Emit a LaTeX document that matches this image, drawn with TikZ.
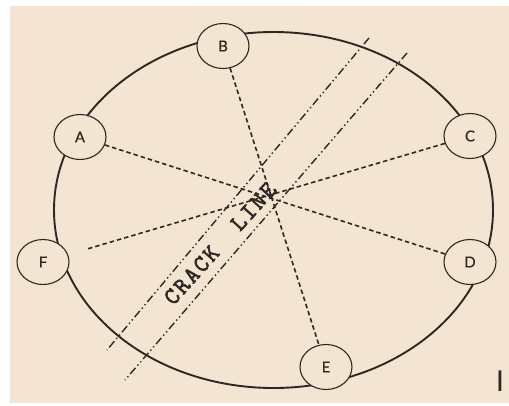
\documentclass[tikz,border=0pt]{standalone}
\usepackage{fontspec}
\setmainfont{Lato}
\newfontfamily\labfnt[FakeBold=0.6]{Lato}
\newfontfamily\monofnt[FakeBold=2.4,LetterSpace=9]{Latin Modern Mono}
\newfontfamily\barfnt{Liberation Sans}
\usetikzlibrary{shapes.geometric}
\definecolor{bgbeige}{RGB}{244,228,210}
\definecolor{ink}{RGB}{45,40,36}
\tikzset{
  station/.style={ellipse, draw=ink, line width=1.1pt, fill=bgbeige, minimum width=52pt, minimum height=45pt, inner sep=0pt, text=ink, font=\labfnt\fontsize{15}{15}\selectfont},
  ray/.style={draw=ink, line width=1.6pt, dash pattern=on 4.5pt off 3pt},
  crack/.style={draw=ink, line width=1.4pt, dash pattern=on 8pt off 3pt on 1.4pt off 3pt on 1.4pt off 3pt},
  rim/.style={draw=ink, line width=1.9pt}
}
\begin{document}
\begin{tikzpicture}[x=1pt,y=-1pt]
\useasboundingbox (0,0) rectangle (509,405);
\fill[white] (0,0) rectangle (509,405);
\fill[bgbeige] (10,6) rectangle (509,403);
% outer rim
\draw[rim] (273.5,210) ellipse [x radius=219.5, y radius=178];
% crack lines
\coordinate (c1a) at (369,38);
\coordinate (c1b) at (107,350);
\coordinate (c2a) at (407,53);
\coordinate (c2b) at (125,380);
\draw[crack] (c1a) -- (c1b);
\draw[crack] (c2a) -- (c2b);
% stations
\node[station] (A) at (80,137) {A};
\node[station] (B) at (223,46) {B};
\node[station] (C) at (470,136) {C};
\node[station] (D) at (470,262) {D};
\node[station] (E) at (326,367) {E};
\node[station] (F) at (43,262) {F};
% rays
\draw[ray] (A) -- (D);
\draw[ray, shorten >=19pt] (C) -- (F);
\draw[ray] (B) -- (E);
% crack label
\node[text=ink, rotate=48, font=\monofnt\fontsize{24}{24}\selectfont, inner sep=0pt] (lbl) at (220,243.5) {CRACK\ \ LINE};
% corner mark
\node[text=ink, font=\barfnt\fontsize{30}{30}\selectfont, inner sep=0pt] (mark) at (500,381) {I};
\end{tikzpicture}
\end{document}
